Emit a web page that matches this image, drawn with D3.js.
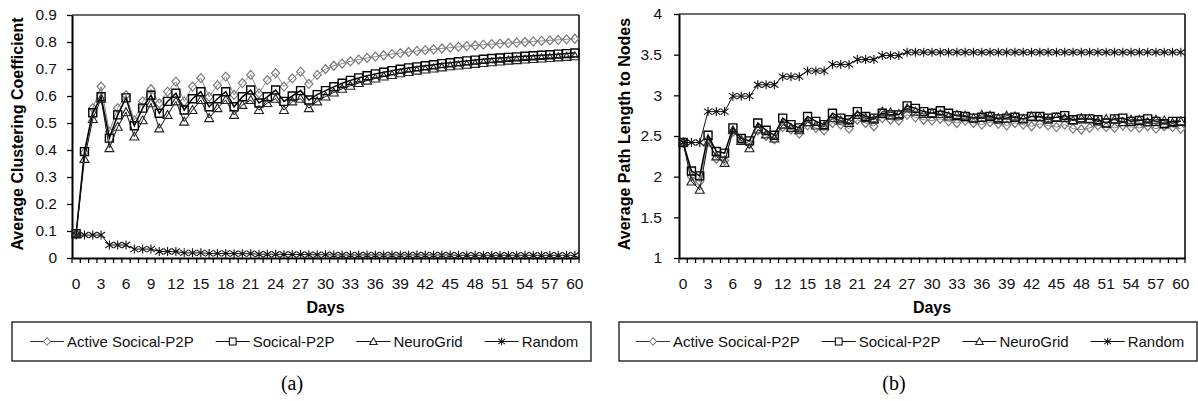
<!DOCTYPE html>
<html><head><meta charset="utf-8">
<script src="https://cdn.jsdelivr.net/npm/d3@7"></script>
<style>body{margin:0;background:#fff}svg{display:block}text{font-family:"Liberation Sans",Arial,sans-serif}</style>
</head><body>
<svg id="c" width="1198" height="401"></svg>
<script>
// ---------- data ----------
const days = [0,1,2,3,4,5,6,7,8,9,10,11,12,13,14,15,16,17,18,19,20,21,22,23,24,25,26,27,28,29,30,
  31,32,33,34,35,36,37,38,39,40,41,42,43,44,45,46,47,48,49,50,51,52,53,54,55,56,57,58,59,60];
const xTickLabels = [0,3,6,9,12,15,18,21,24,27,30,33,36,39,42,45,48,51,54,57,60];
const seriesNames = ["Active Socical-P2P","Socical-P2P","NeuroGrid","Random"];

// (a) Average Clustering Coefficient
const aTicks = [0,0.1,0.2,0.3,0.4,0.5,0.6,0.7,0.8,0.9];
const aActive = [0.09,0.39,0.555,0.635,0.468,0.555,0.603,0.51,0.58,0.625,0.573,0.616,0.653,0.58,0.635,0.666,0.597,0.64,0.672,0.604,0.648,0.678,0.61,0.659,0.685,0.635,0.665,0.69,0.645,0.678,
  0.700,0.712,0.720,0.728,0.735,0.741,0.746,0.751,0.755,0.759,0.763,0.767,0.770,0.773,0.776,0.779,0.782,0.785,0.787,0.790,0.792,0.794,0.796,0.798,0.800,0.802,0.804,0.806,0.808,0.810,0.812];
const aSocial = [0.09,0.394,0.538,0.597,0.444,0.53,0.593,0.49,0.555,0.603,0.536,0.58,0.61,0.548,0.59,0.616,0.56,0.59,0.616,0.56,0.597,0.622,0.574,0.597,0.622,0.58,0.60,0.62,0.585,
  0.605,0.620,0.634,0.647,0.658,0.667,0.675,0.682,0.688,0.694,0.699,0.704,0.708,0.712,0.716,0.720,0.723,0.727,0.730,0.733,0.736,0.739,0.741,0.743,0.745,0.747,0.749,0.751,0.753,0.755,0.757,0.759];
const aNeuro = [0.09,0.367,0.515,0.59,0.407,0.486,0.54,0.45,0.51,0.573,0.48,0.53,0.58,0.505,0.548,0.585,0.518,0.555,0.585,0.53,0.567,0.585,0.548,0.574,0.59,0.548,0.58,0.59,0.555,
  0.580,0.598,0.613,0.627,0.638,0.648,0.657,0.665,0.672,0.678,0.684,0.689,0.694,0.698,0.702,0.706,0.710,0.713,0.716,0.719,0.722,0.725,0.728,0.731,0.733,0.735,0.737,0.739,0.741,0.743,0.745,0.747];
const aRandom = [0.085,0.085,0.085,0.085,0.048,0.048,0.048,0.033,0.033,0.033,0.024,0.024,0.024,0.019,0.019,0.019,0.017,0.017,0.017,0.016,0.016,0.016,0.014,0.014,0.014,0.013,0.013,0.013,0.012,0.012,0.012,
  0.011,0.011,0.011,0.011,0.011,0.011,0.011,0.011,0.011,0.011,0.011,0.011,0.011,0.011,0.011,0.010,0.010,0.010,0.010,0.010,0.010,0.010,0.010,0.010,0.010,0.010,0.010,0.010,0.010,0.010];

// (b) Average Path Length to Nodes
const bTicks = [1,1.5,2,2.5,3,3.5,4];
const bActive = [2.42,2.00,1.94,2.45,2.22,2.20,2.55,2.45,2.40,2.57,2.50,2.46,2.61,2.58,2.53,2.63,2.60,2.57,2.66,2.64,2.59,2.70,2.66,2.62,2.72,2.70,2.69,2.76,2.73,2.70,
  2.69,2.71,2.68,2.66,2.69,2.66,2.64,2.67,2.65,2.63,2.66,2.64,2.62,2.65,2.63,2.61,2.64,2.59,2.58,2.60,2.63,2.61,2.60,2.63,2.61,2.60,2.62,2.59,2.62,2.61,2.59];
const bSocial = [2.42,2.07,2.01,2.51,2.31,2.29,2.60,2.47,2.44,2.66,2.57,2.51,2.72,2.64,2.60,2.74,2.68,2.64,2.78,2.72,2.70,2.80,2.74,2.72,2.78,2.76,2.76,2.87,2.84,2.80,
  2.78,2.81,2.78,2.75,2.74,2.72,2.73,2.74,2.71,2.72,2.73,2.71,2.74,2.74,2.72,2.73,2.75,2.70,2.71,2.71,2.70,2.66,2.71,2.72,2.68,2.69,2.71,2.68,2.65,2.68,2.68];
const bNeuro = [2.42,1.94,1.84,2.42,2.25,2.17,2.57,2.44,2.35,2.58,2.52,2.47,2.64,2.60,2.57,2.67,2.63,2.62,2.72,2.69,2.66,2.76,2.72,2.70,2.80,2.79,2.77,2.84,2.80,2.77,
  2.78,2.77,2.74,2.76,2.75,2.72,2.76,2.75,2.72,2.75,2.74,2.71,2.74,2.73,2.70,2.73,2.72,2.69,2.72,2.71,2.68,2.71,2.70,2.67,2.70,2.70,2.67,2.70,2.69,2.66,2.68];
const bRandom = [2.42,2.42,2.42,2.80,2.80,2.80,2.99,2.99,2.99,3.13,3.13,3.13,3.23,3.23,3.23,3.30,3.30,3.30,3.38,3.38,3.38,3.44,3.44,3.44,3.49,3.49,3.49,
  3.53,3.53,3.53,3.53,3.53,3.53,3.53,3.53,3.53,3.53,3.53,3.53,3.53,3.53,3.53,3.53,3.53,3.53,3.53,3.53,3.53,3.53,3.53,3.53,3.53,3.53,3.53,3.53,3.53,3.53,3.53,3.53,3.53,3.53];

// ---------- styles ----------
const markerPaths = {
  diamond: "M0,-4.5L4,0L0,4.5L-4,0Z",
  square: "M-4,-4H4V4H-4Z",
  triangle: "M0,-4.5L4.5,3.5H-4.5Z",
  star: "M0,-4.5V4.5M-4,-3L4,3M-4,3L4,-3"
};
const seriesStyle = [
  {marker:"diamond", mcolor:"#7a7a7a", lcolor:"#8a8a8a", lw:1, mw:1.2},
  {marker:"square", mcolor:"#000", lcolor:"#000", lw:1.5, mw:1.4},
  {marker:"triangle", mcolor:"#222", lcolor:"#111", lw:1, mw:1.1},
  {marker:"star", mcolor:"#111", lcolor:"#111", lw:1, mw:1.1}
];

const svg = d3.select("#c");

function drawChart(cfg){
  const g = svg.append("g");
  const x = d3.scaleBand().domain(days).range([cfg.x0, cfg.x1]).padding(0);
  const bw = x.bandwidth();
  const y = d3.scaleLinear().domain(cfg.domain).range([cfg.yBot, cfg.yTop]);

  g.append("line").attr("x1",cfg.x0).attr("x2",cfg.x1).attr("y1",cfg.yTop).attr("y2",cfg.yTop)
    .attr("stroke","#3a3a3a").attr("stroke-width",1.5);
  g.append("line").attr("x1",cfg.x1).attr("x2",cfg.x1).attr("y1",cfg.yTop).attr("y2",cfg.yBot)
    .attr("stroke","#111").attr("stroke-width",1.6);

  const ya = g.append("g").attr("transform",`translate(${cfg.x0},0)`)
    .call(d3.axisLeft(y).tickValues(cfg.ticks).tickSize(5).tickSizeOuter(0).tickPadding(cfg.yPad)
      .tickFormat(d => String(+d.toFixed(1))));
  ya.select(".domain").attr("stroke","#000").attr("stroke-width",2);
  ya.selectAll(".tick line").attr("stroke","#000").attr("stroke-width",1.3);
  ya.selectAll("text").style("font-size","15.5px").attr("fill","#111");

  const xa = g.append("g").attr("transform",`translate(0,${cfg.yBot})`)
    .call(d3.axisBottom(x).tickValues(xTickLabels).tickSize(0).tickSizeOuter(0).tickPadding(20));
  xa.select(".domain").attr("stroke","#000").attr("stroke-width",2);
  xa.selectAll("text").style("font-size","15.5px").attr("fill","#111");
  const bounds = days.map(d => x(d)).concat([cfg.x1]);
  g.append("g").selectAll("line").data(bounds).join("line")
    .attr("x1",d=>d).attr("x2",d=>d).attr("y1",cfg.yBot).attr("y2",cfg.yBot+5)
    .attr("stroke","#000").attr("stroke-width",1.2);

  g.append("text").attr("transform",`translate(${cfg.ylabX},${cfg.ylabY}) rotate(-90)`)
    .attr("text-anchor","middle").attr("dominant-baseline","central")
    .style("font-size","16px").style("font-weight","bold").text(cfg.title);
  g.append("text").attr("x",(cfg.x0+cfg.x1)/2).attr("y",313).attr("text-anchor","middle")
    .style("font-size","16px").style("font-weight","bold").text("Days");

  cfg.series.forEach((vals,i)=>{
    const st = seriesStyle[i];
    const pts = days.map((d,k)=>({d, v: vals[k]}));
    const line = d3.line().x(p=>x(p.d)+bw/2).y(p=>y(p.v));
    g.append("path").datum(pts).attr("d",line).attr("fill","none")
      .attr("stroke",st.lcolor).attr("stroke-width",st.lw);
    g.append("g").selectAll("path").data(pts).join("path")
      .attr("transform",p=>`translate(${x(p.d)+bw/2},${y(p.v)})`)
      .attr("d",markerPaths[st.marker]).attr("fill","none")
      .attr("stroke",st.mcolor).attr("stroke-width",st.mw);
  });

  const L = cfg.legend;
  g.append("rect").attr("x",L.x).attr("y",L.y).attr("width",L.w).attr("height",L.h)
    .attr("fill","none").attr("stroke","#111").attr("stroke-width",1.3);
  let cx = L.start;
  const ly = L.y + L.h/2;
  seriesNames.forEach((name,i)=>{
    const st = seriesStyle[i];
    g.append("line").attr("x1",cx).attr("x2",cx+34).attr("y1",ly).attr("y2",ly)
      .attr("stroke", i===0 ? "#333" : "#111").attr("stroke-width",1.2);
    g.append("path").attr("transform",`translate(${cx+17},${ly}) scale(0.85)`)
      .attr("d",markerPaths[st.marker]).attr("fill","#fff")
      .attr("stroke",st.mcolor).attr("stroke-width",1.2);
    const t = g.append("text").attr("x",cx+37).attr("y",ly).attr("dominant-baseline","central")
      .style("font-size","15px").attr("fill","#111").text(name);
    cx = cx + 37 + t.node().getComputedTextLength() + 22;
  });

  svg.append("text").attr("x",cfg.capX).attr("y",390).attr("text-anchor","middle")
    .style("font-family","'Liberation Serif','Times New Roman',serif").style("font-size","20px")
    .text(cfg.caption);
}

drawChart({x0:72,x1:579,yTop:15,yBot:258,domain:[0,0.9],ticks:aTicks,yPad:10,
  ylabX:17,ylabY:134,title:"Average Clustering Coefficient",
  series:[aActive,aSocial,aNeuro,aRandom],
  legend:{x:12,y:322,w:579,h:39,start:30},caption:"(a)",capX:292});
drawChart({x0:679,x1:1185,yTop:14,yBot:258,domain:[1,4],ticks:bTicks,yPad:12,
  ylabX:624,ylabY:134,title:"Average Path Length to Nodes",
  series:[bActive,bSocial,bNeuro,bRandom],
  legend:{x:619,y:322,w:578,h:39,start:636},caption:"(b)",capX:894});
</script>
</body></html>
